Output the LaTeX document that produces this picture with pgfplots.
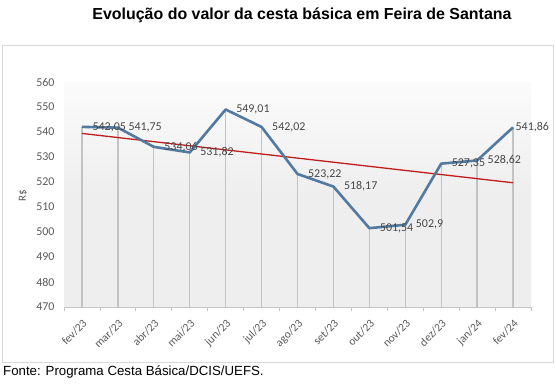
\documentclass[border=0pt]{standalone}
\usepackage{pgfplots}
\pgfplotsset{compat=1.18}
\usepackage{pgfplotstable}
\usepackage{fontspec}
\setmainfont{Carlito}
\newfontfamily\arialfont{Liberation Sans}
\definecolor{lineblue}{RGB}{82,122,160}
\definecolor{dropgray}{RGB}{195,195,195}
\definecolor{trendred}{RGB}{192,30,30}
\definecolor{txtgray}{RGB}{89,89,89}
\definecolor{bgGray}{RGB}{238,238,238}
\definecolor{frameGray}{RGB}{217,217,217}
\pgfdeclareverticalshading{plotbg}{100bp}{color(0bp)=(bgGray); color(50bp)=(bgGray); color(82bp)=(white); color(100bp)=(white)}
\pgfplotstableread{
x y lab dx
0 542.05 542,05 6
1 541.75 541,75 6
2 534.06 534,06 6
3 531.82 531,82 6
4 549.01 549,01 6
5 542.02 542,02 6
6 523.22 523,22 6
7 518.17 518,17 6
8 501.54 501,54 6
9 502.90 502,9 6
10 527.35 527,35 6
11 528.62 528,62 6
12 541.86 541,86 -2
}\cesta
\begin{document}
\begin{tikzpicture}[x=1bp,y=1bp]
\path[use as bounding box] (0,0) rectangle (556,-383);
\draw[frameGray, line width=0.8bp] (2,-45) rectangle (553,-362);
\node[font=\arialfont\bfseries\fontsize{16}{19}\selectfont, anchor=center] at (302,-15) {Evolução do valor da cesta básica em Feira de Santana};
\node[font=\arialfont\fontsize{13.3}{16}\selectfont, anchor=west, inner sep=0pt] at (3,-372) {Fonte: Programa Cesta Básica/DCIS/UEFS.};
\node[font=\fontsize{11}{13}\selectfont, text=txtgray, rotate=90] at (23,-196) {R\$};
\begin{axis}[
  at={(64bp,-307bp)}, anchor=south west,
  scale only axis, width=467bp, height=225bp,
  xmin=-0.5, xmax=12.5, ymin=470, ymax=560,
  ytick={470,480,...,560},
  xtick={0,...,12},
  xticklabels={fev/23,mar/23,abr/23,mai/23,jun/23,jul/23,ago/23,set/23,out/23,nov/23,dez/23,jan/24,fev/24},
  axis x line*=bottom, axis y line*=left,
  y axis line style={draw=none},
  x axis line style={dropgray, line width=0.8bp, -},
  major tick style={draw=none},
  extra x ticks={-0.5,0.5,...,12.5},
  extra x tick labels={},
  extra x tick style={major tick style={draw=dropgray, line width=0.8bp}, tick align=outside, major tick length=3.5bp},
  yticklabel style={font=\fontsize{12}{14}\selectfont, text=txtgray, xshift=-6bp},
  xticklabel style={font=\fontsize{11.5}{13}\selectfont, text=txtgray, inner sep=1bp, xshift=0bp, yshift=-10bp, rotate=45, anchor=north east},
  /pgf/number format/assume math mode=true,
  axis background/.style={shading=plotbg},
  clip=false,
]
\addplot[ycomb, dropgray, line width=1.3bp, no markers] table[x=x,y=y] {\cesta};
\addplot[trendred, line width=1.3bp, no markers] coordinates {(0,539.43) (12,519.70)};
\addplot[lineblue, line width=2.6bp, no markers, line join=round,
  nodes near coords, point meta=explicit symbolic,
  visualization depends on={\thisrow{dx} \as \labdx},
  nodes near coords style={font=\fontsize{12}{14}\selectfont, text=txtgray!80!black, anchor=west, xshift=\labdx bp}]
  table[x=x,y=y,meta=lab] {\cesta};
\end{axis}
\end{tikzpicture}
\end{document}
